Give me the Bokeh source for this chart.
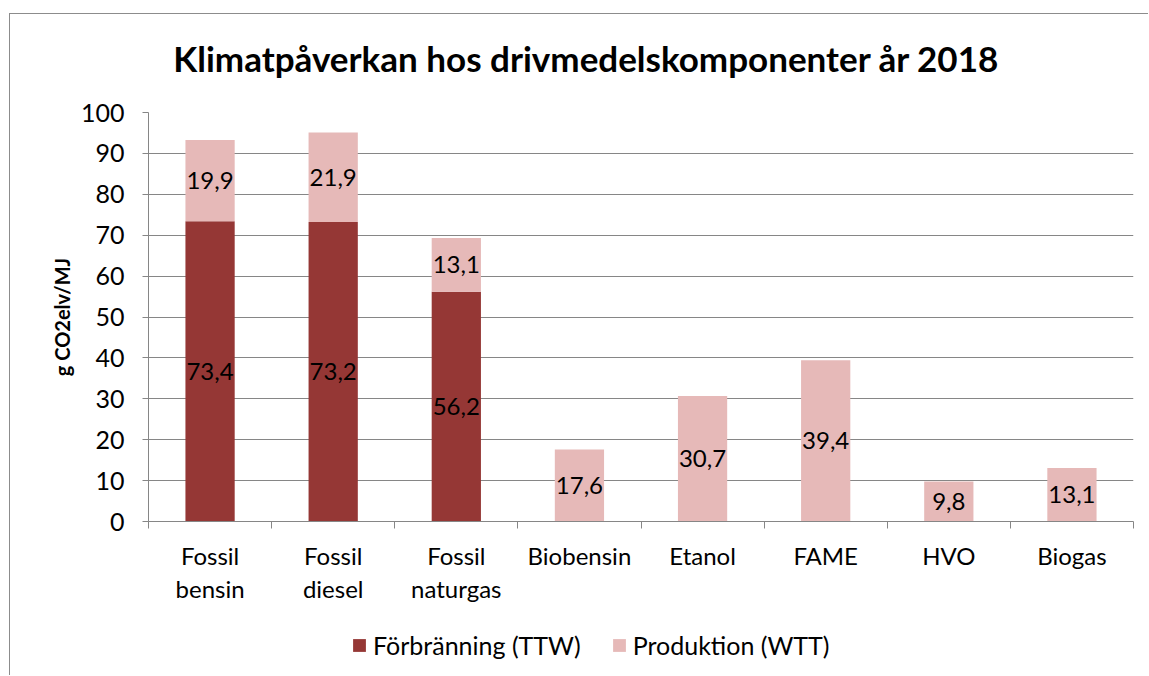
from bokeh.plotting import figure
from bokeh.layouts import column
from bokeh.models import (ColumnDataSource, LabelSet, Legend, LegendItem, FixedTicker,
                          Range1d, Label)
from bokeh.core.properties import value
from bokeh.embed import file_html
from bokeh.resources import INLINE
import numpy as np

title = "Klimatpåverkan hos drivmedelskomponenter år 2018"
categories = ["Fossil\nbensin", "Fossil\ndiesel", "Fossil\nnaturgas", "Biobensin",
              "Etanol", "FAME", "HVO", "Biogas"]
ttw = [73.4, 73.2, 56.2, 0, 0, 0, 0, 0]
wtt = [19.9, 21.9, 13.1, 17.6, 30.7, 39.4, 9.8, 13.1]
series_names = ["Förbränning (TTW)", "Produktion (WTT)"]
y_label = "g CO2elv/MJ"
y_ticks = list(range(0, 101, 10))

DARK = "#953735"
PINK = "#E6B9B8"
GRID = "#868686"
BORDER = "#8c8c8c"
FONT = "Lato"

W = 1139
ML, MR = 138, 16
FRAME_W = W - ML - MR

n = len(categories)
xs = np.arange(n) + 0.5

src = ColumnDataSource(dict(x=xs, ttw=ttw, wtt=wtt))

# ---- title strip ----
pt = figure(width=W, height=84, output_backend="svg", toolbar_location=None,
            x_axis_location=None, y_axis_location=None,
            x_range=Range1d(0, FRAME_W), y_range=Range1d(0, 84),
            min_border_left=ML, min_border_right=MR, min_border_top=0,
            min_border_bottom=0)
pt.styles = {"border-top": f"1px solid {BORDER}", "border-left": f"1px solid {BORDER}",
             "margin-top": "13px", "margin-left": "9px"}
pt.outline_line_color = None
pt.xgrid.grid_line_color = None
pt.ygrid.grid_line_color = None
pt.add_layout(Label(x=438, y=41, text=title, text_align="center",
                    text_baseline="alphabetic", text_font=FONT,
                    text_font_size="35px", text_font_style="bold", text_color="black"))

# ---- main chart ----
p = figure(width=W, height=516, output_backend="svg", toolbar_location=None,
           x_range=Range1d(0, n), y_range=Range1d(0, 100),
           min_border_left=ML, min_border_right=MR, min_border_top=15,
           min_border_bottom=92)
p.styles = {"border-left": f"1px solid {BORDER}", "margin-left": "9px"}
p.outline_line_color = None
p.background_fill_color = "white"

r = p.vbar_stack(["ttw", "wtt"], x="x", width=0.4, source=src,
                 color=[DARK, PINK], line_color=None)

# data labels
lab_x, lab_y, lab_t = [], [], []
for i in range(n):
    if ttw[i] > 0:
        lab_x.append(xs[i]); lab_y.append(ttw[i] / 2)
        lab_t.append(f"{ttw[i]:.1f}".replace(".", ","))
    if wtt[i] > 0:
        lab_x.append(xs[i]); lab_y.append(ttw[i] + wtt[i] / 2)
        lab_t.append(f"{wtt[i]:.1f}".replace(".", ","))
lsrc = ColumnDataSource(dict(x=lab_x, y=lab_y, t=lab_t))
p.add_layout(LabelSet(x="x", y="y", text="t", source=lsrc, text_align="center",
                      text_baseline="middle", text_font=value(FONT),
                      text_font_size="24px", text_color="black"))

# axes
p.xaxis.ticker = FixedTicker(ticks=list(xs), minor_ticks=list(range(n + 1)))
p.xaxis.major_label_overrides = {float(x): c for x, c in zip(xs, categories)}
p.xaxis.major_tick_out = 0
p.xaxis.major_tick_in = 0
p.xaxis.minor_tick_out = 7
p.xaxis.minor_tick_in = 0
p.xaxis.minor_tick_line_color = GRID
p.xaxis.axis_line_color = GRID
p.xaxis.major_label_text_font = FONT
p.xaxis.major_label_text_font_size = "24px"
p.xaxis.major_label_text_color = "black"
p.xaxis.major_label_standoff = 12
p.xaxis.major_label_text_line_height = 1.17

p.yaxis.ticker = FixedTicker(ticks=y_ticks)
p.yaxis.minor_tick_line_color = None
p.yaxis.major_tick_out = 6
p.yaxis.major_tick_in = 0
p.yaxis.major_tick_line_color = GRID
p.yaxis.axis_line_color = GRID
p.yaxis.major_label_text_font = FONT
p.yaxis.major_label_text_font_size = "25px"
p.yaxis.major_label_text_color = "black"
p.yaxis.major_label_standoff = 18
p.yaxis.axis_label = y_label
p.yaxis.axis_label_text_font = FONT
p.yaxis.axis_label_text_font_size = "20px"
p.yaxis.axis_label_text_font_style = "bold"
p.yaxis.axis_label_text_color = "black"
p.yaxis.axis_label_standoff = 4

p.xgrid.grid_line_color = None
p.ygrid.grid_line_color = GRID
p.ygrid.ticker = FixedTicker(ticks=y_ticks)

# ---- legend strip (its renderers lie outside its visible range) ----
pl = figure(width=W, height=62, output_backend="svg", toolbar_location=None,
            x_axis_location=None, y_axis_location=None,
            x_range=Range1d(100, 101), y_range=Range1d(500, 501),
            min_border_left=ML, min_border_right=MR, min_border_top=0,
            min_border_bottom=0)
pl.styles = {"border-left": f"1px solid {BORDER}", "margin-left": "9px"}
pl.outline_line_color = None
pl.xgrid.grid_line_color = None
pl.ygrid.grid_line_color = None
lr = pl.vbar_stack(["ttw", "wtt"], x="x", width=0.4, source=src,
                   color=[DARK, PINK], line_color=None)
legend = Legend(items=[LegendItem(label=series_names[0], renderers=[lr[0]]),
                       LegendItem(label=series_names[1], renderers=[lr[1]])],
                orientation="horizontal", location=(203, 15),
                label_text_font=FONT, label_text_font_size="25px",
                label_text_color="black",
                glyph_width=16, glyph_height=16, label_standoff=6, spacing=30,
                padding=0, margin=0, border_line_color=None,
                background_fill_alpha=0)
pl.add_layout(legend, "center")

layout = column(pt, p, pl, spacing=0)
open("out.html", "w").write(file_html(layout, INLINE))
